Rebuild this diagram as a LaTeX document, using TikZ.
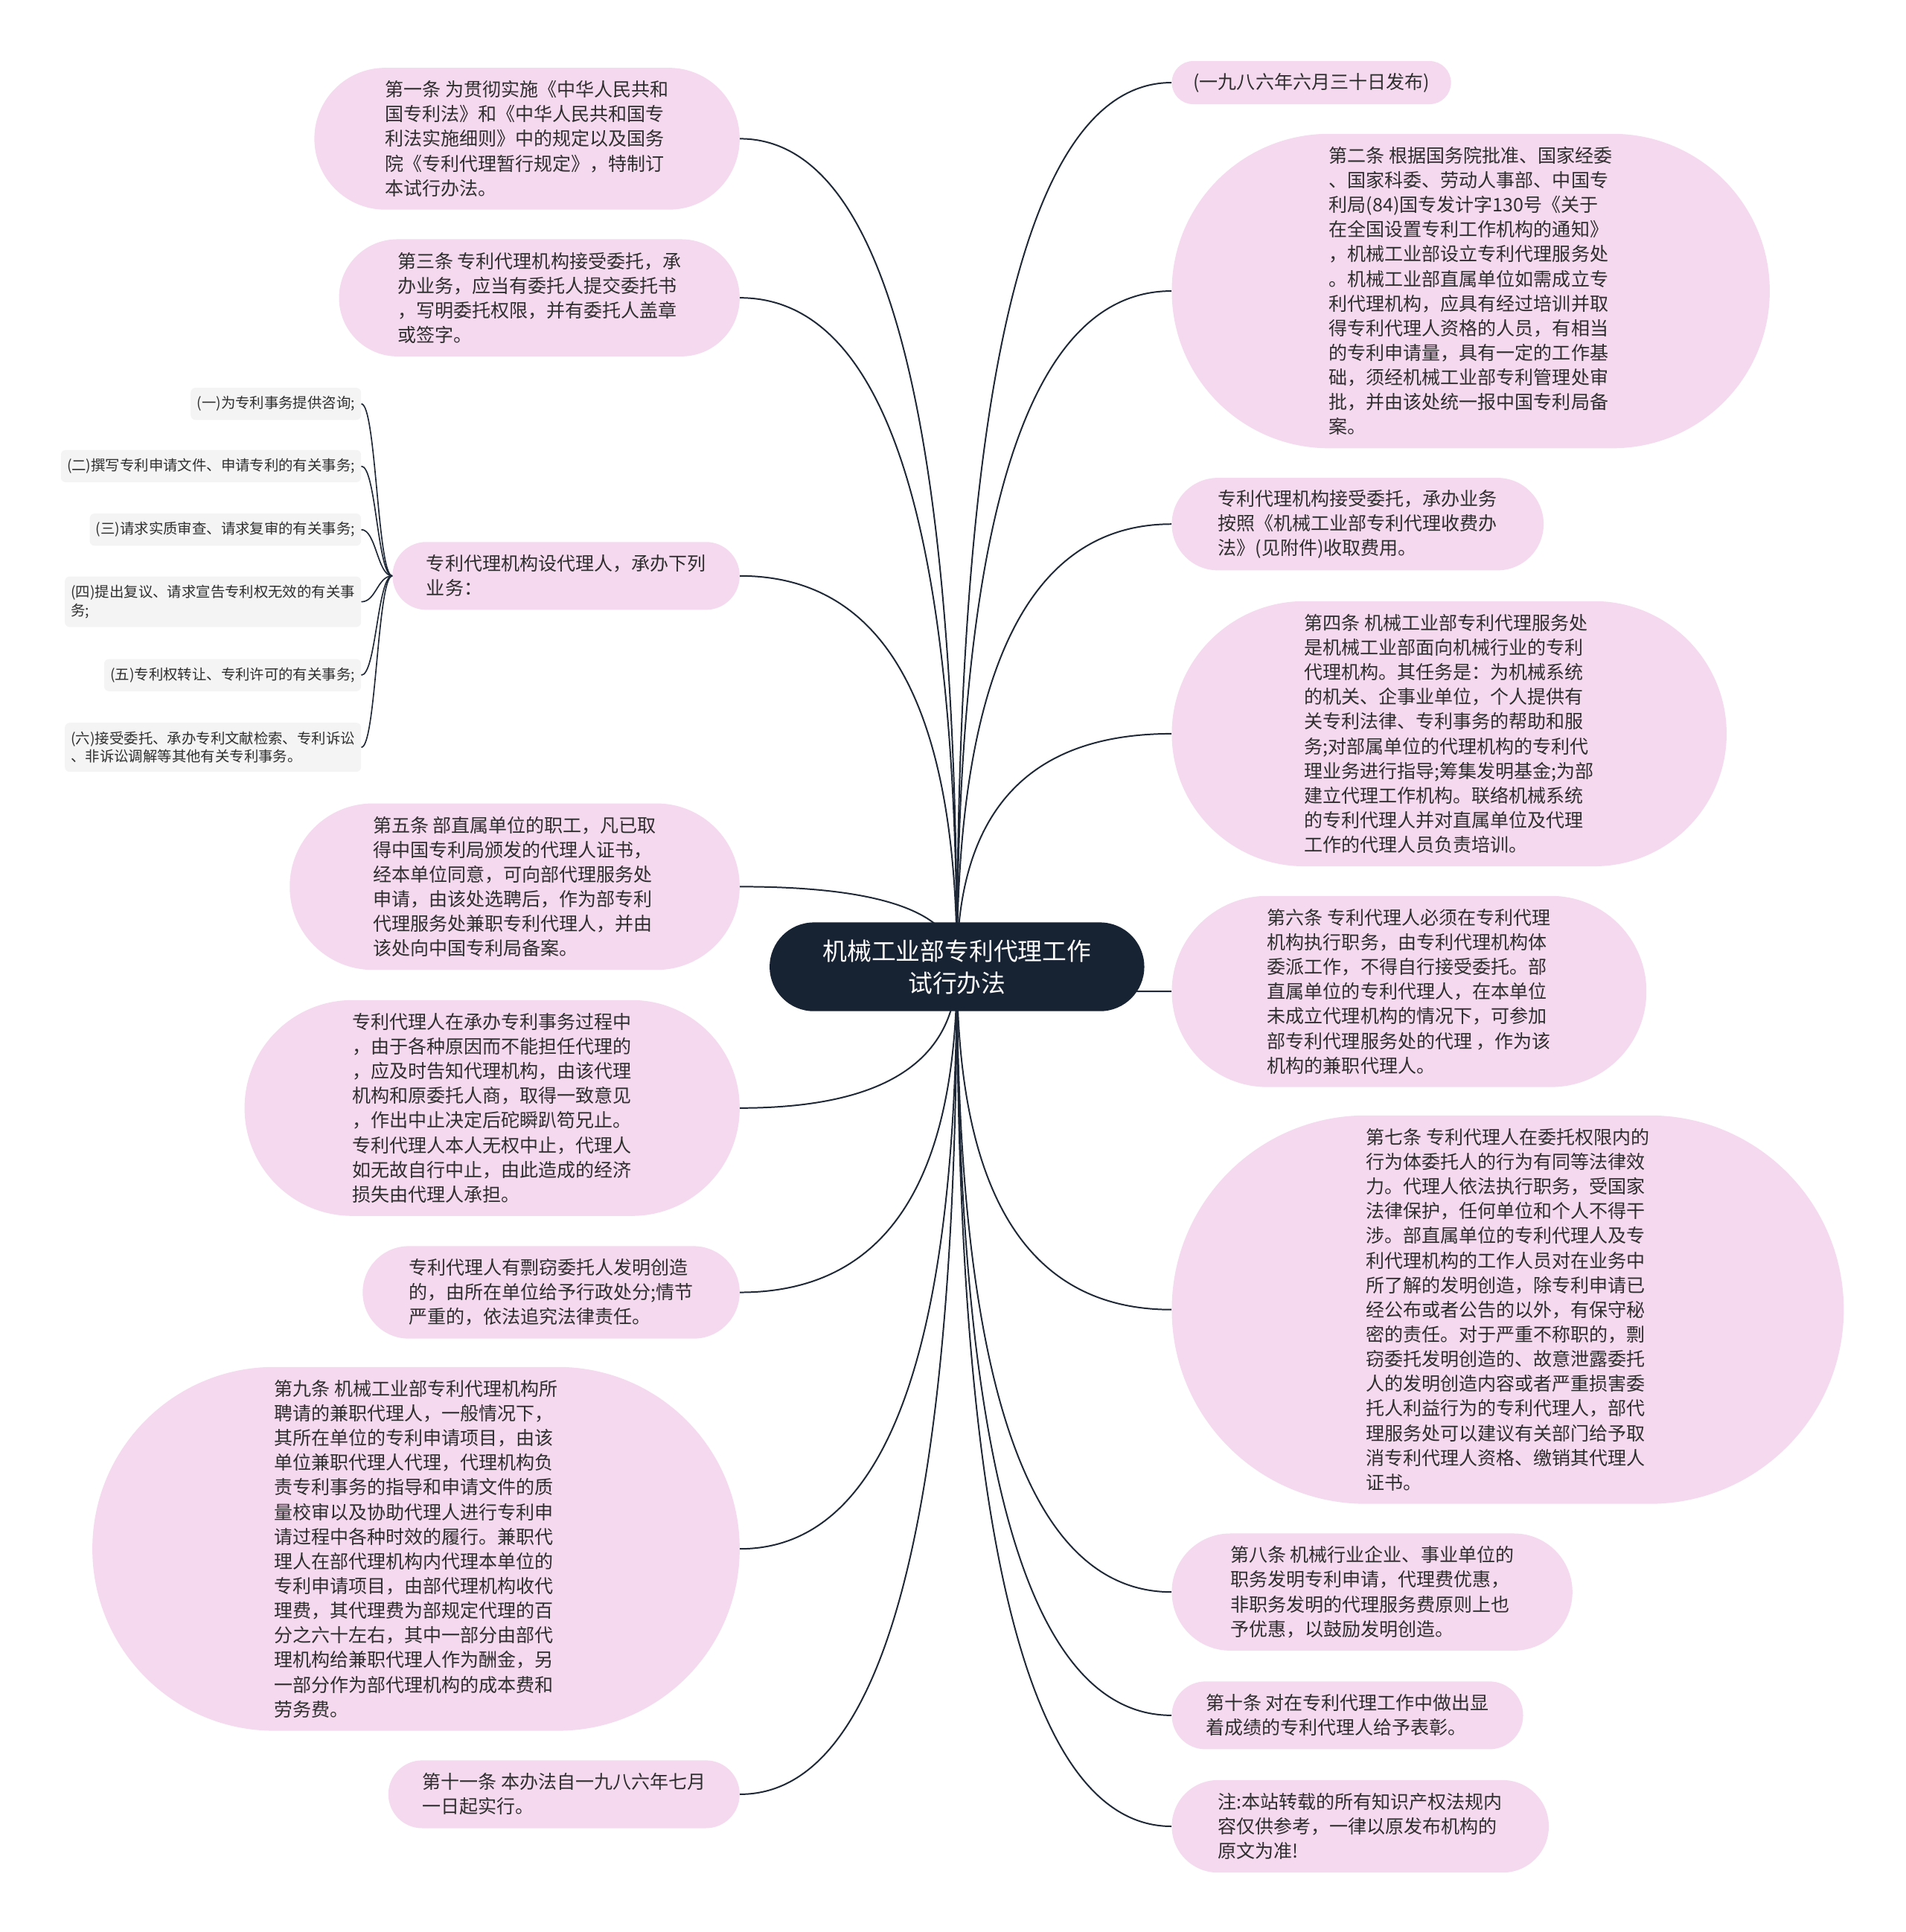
\documentclass[tikz,border=0pt]{standalone}
\usepackage{fontspec}
\setmainfont{Noto Sans CJK SC}
\usepackage{xcolor}
\usetikzlibrary{calc, backgrounds}
\definecolor{bubble}{HTML}{F5D9EE}
\definecolor{rootfill}{HTML}{172233}
\definecolor{itemfill}{HTML}{F4F4F4}
\definecolor{wire}{HTML}{1E2836}
\definecolor{ink}{HTML}{2E2E2E}

\tikzset{
  leaf/.style={rectangle, rounded corners=10*#1+7.4, minimum height=20*#1+15, inner xsep=10*#1+7.5, inner ysep=0pt, fill=bubble, text=ink, align=left, font=\fontsize{15.1}{20}\selectfont},
  item/.style={rectangle, rounded corners=4pt, fill=itemfill, text=ink, align=left, inner xsep=5pt, inner ysep=7pt, font=\fontsize{11.7}{15}\selectfont, anchor=east},
  branch/.style={line width=1.2pt, draw=wire, to path={.. controls ($(\tikztostart)!.667!(\tikztostart|-\tikztotarget)$) and ($(\tikztotarget)!.667!(\tikztostart|-\tikztotarget)$) .. (\tikztotarget)}},
  twig/.style={line width=1pt, draw=wire}
}

\begin{document}
\begin{tikzpicture}[x=1pt, y=-1pt]
      \useasboundingbox (0,0) rectangle (1545,1566.7);

      \node[rectangle, rounded corners=35.9, minimum height=72, inner xsep=43, fill=rootfill, text=white, align=center, font=\fontsize{19.8}{26}\selectfont] at (776,784) (law) {机械工业部专利代理工作\\试行办法};

      \node[leaf=5, anchor=east] at (600,112.5) (art1) {第一条 为贯彻实施《中华人民共和\\国专利法》和《中华人民共和国专\\利法实施细则》中的规定以及国务\\院《专利代理暂行规定》，特制订\\本试行办法。};
      \node[leaf=4, anchor=east] at (600,241.5) (art3) {第三条 专利代理机构接受委托，承\\办业务，应当有委托人提交委托书\\，写明委托权限，并有委托人盖章\\或签字。};
      \node[leaf=2, anchor=east] at (600,467) (duty) {专利代理机构设代理人，承办下列\\业务：};
      \node[leaf=6, anchor=east] at (600,719) (art5) {第五条 部直属单位的职工，凡已取\\得中国专利局颁发的代理人证书，\\经本单位同意，可向部代理服务处\\申请，由该处选聘后，作为部专利\\代理服务处兼职专利代理人，并由\\该处向中国专利局备案。};
      \node[leaf=8, anchor=east] at (600,898.5) (quit) {专利代理人在承办专利事务过程中\\，由于各种原因而不能担任代理的\\，应及时告知代理机构，由该代理\\机构和原委托人商，取得一致意见\\，作出中止决定后砣瞬趴笱兄止。\\专利代理人本人无权中止，代理人\\如无故自行中止，由此造成的经济\\损失由代理人承担。};
      \node[leaf=3, anchor=east] at (600,1048) (theft) {专利代理人有剽窃委托人发明创造\\的，由所在单位给予行政处分;情节\\严重的，依法追究法律责任。};
      \node[leaf=14, anchor=east] at (600,1256) (art9) {第九条 机械工业部专利代理机构所\\聘请的兼职代理人，一般情况下，\\其所在单位的专利申请项目，由该\\单位兼职代理人代理，代理机构负\\责专利事务的指导和申请文件的质\\量校审以及协助代理人进行专利申\\请过程中各种时效的履行。兼职代\\理人在部代理机构内代理本单位的\\专利申请项目，由部代理机构收代\\理费，其代理费为部规定代理的百\\分之六十左右，其中一部分由部代\\理机构给兼职代理人作为酬金，另\\一部分作为部代理机构的成本费和\\劳务费。};
      \node[leaf=2, anchor=east] at (600,1455) (art11) {第十一条 本办法自一九八六年七月\\一日起实行。};

      \node[item] at (293,327.5) (d1) {(一)为专利事务提供咨询;};
      \node[item] at (293,378) (d2) {(二)撰写专利申请文件、申请专利的有关事务;};
      \node[item] at (293,429.5) (d3) {(三)请求实质审查、请求复审的有关事务;};
      \node[item] at (293,488) (d4) {(四)提出复议、请求宣告专利权无效的有关事\\务;};
      \node[item] at (293,547.5) (d5) {(五)专利权转让、专利许可的有关事务;};
      \node[item] at (293,606) (d6) {(六)接受委托、承办专利文献检索、专利诉讼\\、非诉讼调解等其他有关专利事务。};

      \node[leaf=1, anchor=west] at (950,67) (pub) {(一九八六年六月三十日发布)};
      \node[leaf=12, anchor=west] at (950,236) (art2) {第二条 根据国务院批准、国家经委\\、国家科委、劳动人事部、中国专\\利局(84)国专发计字130号《关于\\在全国设置专利工作机构的通知》\\，机械工业部设立专利代理服务处\\。机械工业部直属单位如需成立专\\利代理机构，应具有经过培训并取\\得专利代理人资格的人员，有相当\\的专利申请量，具有一定的工作基\\础，须经机械工业部专利管理处审\\批，并由该处统一报中国专利局备\\案。};
      \node[leaf=3, anchor=west] at (950,425) (fees) {专利代理机构接受委托，承办业务\\按照《机械工业部专利代理收费办\\法》(见附件)收取费用。};
      \node[leaf=10, anchor=west] at (950,595) (art4) {第四条 机械工业部专利代理服务处\\是机械工业部面向机械行业的专利\\代理机构。其任务是：为机械系统\\的机关、企事业单位，个人提供有\\关专利法律、专利事务的帮助和服\\务;对部属单位的代理机构的专利代\\理业务进行指导;筹集发明基金;为部\\建立代理工作机构。联络机械系统\\的专利代理人并对直属单位及代理\\工作的代理人员负责培训。};
      \node[leaf=7, anchor=west] at (950,804) (art6) {第六条 专利代理人必须在专利代理\\机构执行职务，由专利代理机构体\\委派工作，不得自行接受委托。部\\直属单位的专利代理人，在本单位\\未成立代理机构的情况下，可参加\\部专利代理服务处的代理 ，作为该\\机构的兼职代理人。};
      \node[leaf=15, anchor=west] at (950,1062) (art7) {第七条 专利代理人在委托权限内的\\行为体委托人的行为有同等法律效\\力。代理人依法执行职务，受国家\\法律保护，任何单位和个人不得干\\涉。部直属单位的专利代理人及专\\利代理机构的工作人员对在业务中\\所了解的发明创造，除专利申请已\\经公布或者公告的以外，有保守秘\\密的责任。对于严重不称职的，剽\\窃委托发明创造的、故意泄露委托\\人的发明创造内容或者严重损害委\\托人利益行为的专利代理人，部代\\理服务处可以建议有关部门给予取\\消专利代理人资格、缴销其代理人\\证书。};
      \node[leaf=4, anchor=west] at (950,1291) (art8) {第八条 机械行业企业、事业单位的\\职务发明专利申请，代理费优惠，\\非职务发明的代理服务费原则上也\\予优惠，以鼓励发明创造。};
      \node[leaf=2, anchor=west] at (950,1391) (art10) {第十条 对在专利代理工作中做出显\\着成绩的专利代理人给予表彰。};
      \node[leaf=3, anchor=west] at (950,1481) (note) {注:本站转载的所有知识产权法规内\\容仅供参考，一律以原发布机构的\\原文为准!};

      \begin{scope}[on background layer]
      \draw[branch] (law.center) to (art1.east);
      \draw[branch] (law.center) to (art3.east);
      \draw[branch] (law.center) to (duty.east);
      \draw[branch] (law.center) to (art5.east);
      \draw[branch] (law.center) to (quit.east);
      \draw[branch] (law.center) to (theft.east);
      \draw[branch] (law.center) to (art9.east);
      \draw[branch] (law.center) to (art11.east);

      \draw[branch] (law.center) to (pub.west);
      \draw[branch] (law.center) to (art2.west);
      \draw[branch] (law.center) to (fees.west);
      \draw[branch] (law.center) to (art4.west);
      \draw[branch] (law.center) to (art6.west);
      \draw[branch] (law.center) to (art7.west);
      \draw[branch] (law.center) to (art8.west);
      \draw[branch] (law.center) to (art10.west);
      \draw[branch] (law.center) to (note.west);
      \end{scope}

      \draw[twig] (duty.west) .. controls +(-12,0) and +(12,0) .. (d1.east);
      \draw[twig] (duty.west) .. controls +(-12,0) and +(12,0) .. (d2.east);
      \draw[twig] (duty.west) .. controls +(-12,0) and +(12,0) .. (d3.east);
      \draw[twig] (duty.west) .. controls +(-12,0) and +(12,0) .. (d4.east);
      \draw[twig] (duty.west) .. controls +(-12,0) and +(12,0) .. (d5.east);
      \draw[twig] (duty.west) .. controls +(-12,0) and +(12,0) .. (d6.east);
    \end{tikzpicture}
\end{document}
